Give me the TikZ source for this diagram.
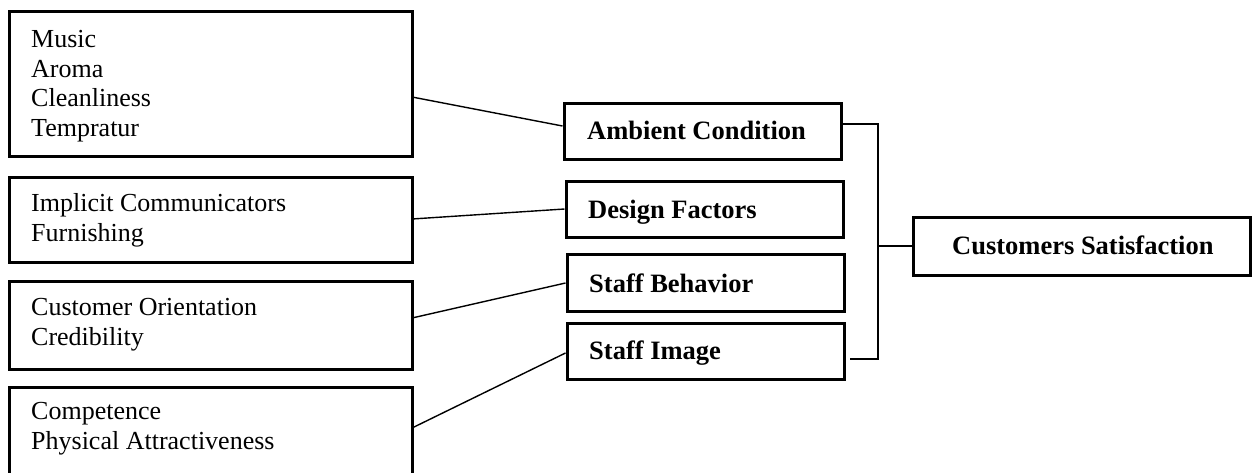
\documentclass[tikz,border=0pt]{standalone}
\usepackage{fontspec}
\setmainfont{Liberation Serif}
\begin{document}
\begin{tikzpicture}[x=1pt,y=-1pt,
  box/.style={draw=black,line width=3pt,rectangle,inner sep=0pt},
  item/.style={anchor=base west,inner sep=0pt,align=left,font=\fontsize{26}{29.5}\selectfont},
  head/.style={anchor=base west,inner sep=0pt,font=\fontsize{26.5}{30}\selectfont\bfseries},
  link/.style={draw=black,line width=1.4pt}]
\useasboundingbox (0,0) rectangle (1256,472);
\clip (0,0) rectangle (1256,472);

% left-hand item boxes (text anchored at the baseline of the last line)
\draw[box] (9,11) rectangle (412,156);
\draw[box] (9,177) rectangle (412,262);
\draw[box] (9,281) rectangle (412,369);
\draw[box] (9,387) rectangle (412,490);
\node[item] (t1) at (31,136) {Music\\Aroma\\Cleanliness\\Tempratur};
\node[item] (t2) at (31,241) {Implicit Communicators\\Furnishing};
\node[item] (t3) at (31,345) {Customer Orientation\\Credibility};
\node[item] (t4) at (31,449) {Competence\\Physical Attractiveness};

% dimension boxes
\node[box,minimum width=277pt,minimum height=56pt] (amb) at (702.5,131) {};
\node[box,minimum width=277pt,minimum height=56pt] (des) at (704.5,209) {};
\node[box,minimum width=277pt,minimum height=57pt] (beh) at (705.5,282.5) {};
\node[box,minimum width=277pt,minimum height=56pt] (img) at (705.5,351) {};
\node[head] (ha) at (587,139) {Ambient Condition};
\node[head] (hd) at (588,218) {Design Factors};
\node[head] (hb) at (589,292) {Staff Behavior};
\node[head] (hi) at (589,359) {Staff Image};

% outcome box
\node[box,minimum width=337pt,minimum height=58pt] (cs) at (1081.5,246) {};
\node[head] (hc) at (952,254) {Customers Satisfaction};

% item boxes to dimensions
\coordinate (a1) at (412,97);
\coordinate (a2) at (412,219);
\coordinate (a3) at (412,318);
\coordinate (a4) at (412,428);
\draw[link] (a1) -- (amb.west |- 0,126);
\draw[link] (a2) -- (des.west |- 0,209);
\draw[link] (a3) -- (beh.west |- 0,283);
\draw[link] (a4) -- (img.west |- 0,353);

% bracket joining dimensions to the outcome
\coordinate (bt) at (878,124);
\coordinate (bb) at (878,359);
\coordinate (be) at (850,359);
\draw[link] (amb.east |- bt) -- (bt) -- (bb) -- (be);
\draw[link] (bt |- cs.west) -- (cs.west);
\end{tikzpicture}
\end{document}
